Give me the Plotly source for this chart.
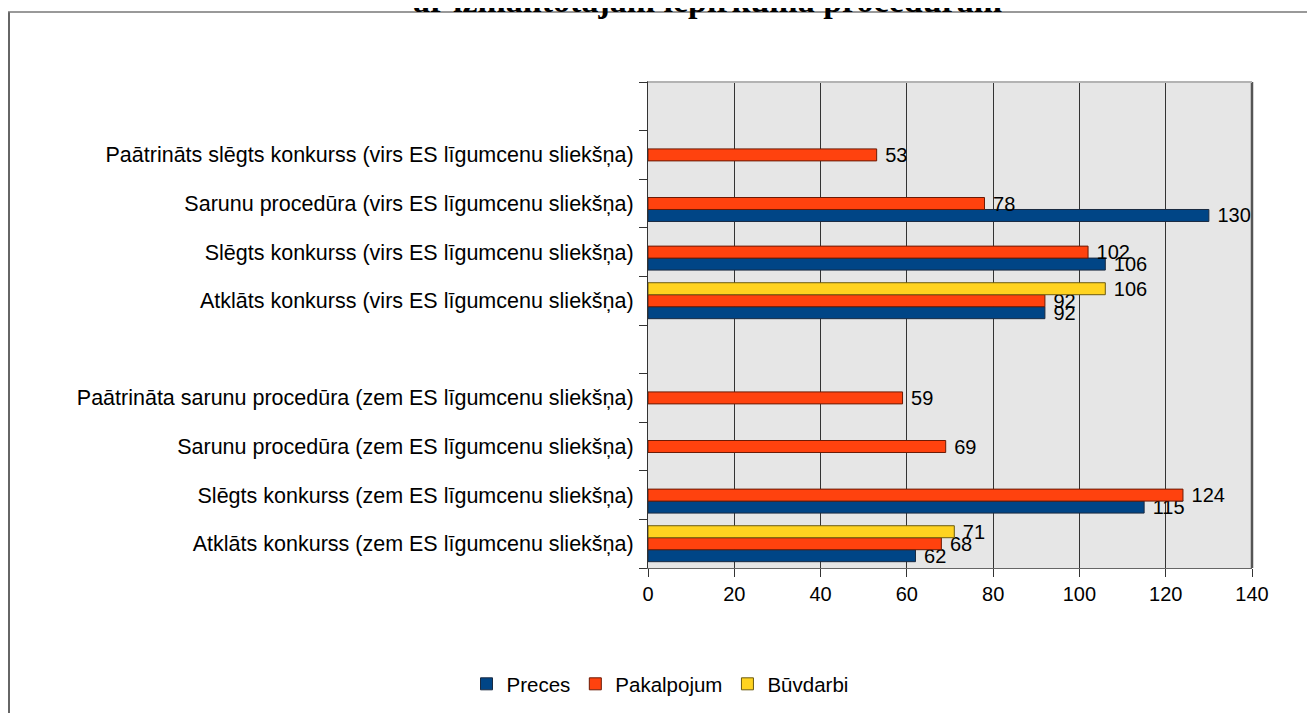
import plotly.graph_objects as go

categories = [
    "Atklāts konkurss (zem ES līgumcenu sliekšņa)",
    "Slēgts konkurss (zem ES līgumcenu sliekšņa)",
    "Sarunu procedūra (zem ES līgumcenu sliekšņa)",
    "Paātrināta sarunu procedūra (zem ES līgumcenu sliekšņa)",
    " ",
    "Atklāts konkurss (virs ES līgumcenu sliekšņa)",
    "Slēgts konkurss (virs ES līgumcenu sliekšņa)",
    "Sarunu procedūra (virs ES līgumcenu sliekšņa)",
    "Paātrināts slēgts konkurss (virs ES līgumcenu sliekšņa)",
    "  ",
]
preces = [62, 115, None, None, None, 92, 106, 130, None, None]
pakalpojum = [68, 124, 69, 59, None, 92, 102, 78, 53, None]
buvdarbi = [71, None, None, None, None, 106, None, None, None, None]
x_ticks = [0, 20, 40, 60, 80, 100, 120, 140]
title_text = "ar izmantotajām iepirkuma procedūrām"

series = [
    ("Preces", preces, "#004586", "#1a2a40"),
    ("Pakalpojum", pakalpojum, "#ff420e", "#6b1a05"),
    ("Būvdarbi", buvdarbi, "#ffd320", "#6b5a10"),
]

FONT = "Liberation Sans, Arial, sans-serif"

fig = go.Figure()
for name, vals, col, lcol in series:
    fig.add_trace(go.Bar(
        y=categories, x=vals, name=name, orientation="h",
        marker=dict(color=col, line=dict(color=lcol, width=1)),
        text=[("" if v is None else "\u00a0" + str(v)) for v in vals],
        textposition="outside", constraintext="none", cliponaxis=False,
        textfont=dict(family=FONT, size=20, color="black"),
    ))

# page offset: the html body has an 8px margin
OFF = 8
W, H = 1315, 713
L, R, T, B = 648 - OFF, 1315 - (1252 - OFF), 82 - OFF, 713 - (568 - OFF)
pw, ph = W - L - R, H - T - B

def px_x(sx):
    return (sx - OFF - L) / pw

def px_y(sy):
    return (H - B - (sy - OFF)) / ph

fig.update_layout(
    width=W, height=H,
    margin=dict(l=L, r=R, t=T, b=B, pad=0),
    paper_bgcolor="white", plot_bgcolor="#e6e6e6",
    barmode="group", bargap=0.26, bargroupgap=0,
    font=dict(family=FONT, size=21, color="black"),
    showlegend=True,
    legend=dict(orientation="h", xref="container", yref="container",
                x=(660 - OFF) / W, xanchor="center",
                y=1 - (684 - OFF) / H, yanchor="middle",
                font=dict(size=20.5), traceorder="normal", tracegroupgap=0),
    xaxis=dict(range=[0, 140], tickvals=x_ticks, ticktext=[str(v) for v in x_ticks],
               showgrid=True, gridcolor="#333333", gridwidth=1, zeroline=False,
               showline=True, linecolor="#666666", linewidth=1, mirror=True,
               ticks="outside", ticklen=8, tickcolor="#333333",
               tickfont=dict(size=20)),
    yaxis=dict(type="category", categoryorder="array", categoryarray=categories,
               range=[-0.5, len(categories) - 0.5],
               showgrid=False, zeroline=False,
               showline=True, linecolor="#333333", linewidth=1,
               ticks="outside", ticklen=8, tickcolor="#333333", tickson="boundaries",
               tickfont=dict(size=21.5), ticklabelstandoff=9),
    shapes=[
        dict(type="line", xref="paper", yref="paper", x0=px_x(9), x1=px_x(9),
             y0=px_y(12), y1=px_y(740), line=dict(color="#333333", width=1.5)),
        dict(type="line", xref="paper", yref="paper", x0=px_x(8), x1=px_x(1340),
             y0=px_y(12), y1=px_y(12), line=dict(color="#777777", width=1.5)),
        dict(type="line", xref="paper", yref="paper", x0=1, x1=1,
             y0=0, y1=1, line=dict(color="#555555", width=2.5)),
        dict(type="line", xref="paper", yref="paper", x0=0, x1=1,
             y0=1, y1=1, line=dict(color="#b3b3b3", width=2)),
    ],
    annotations=[
        dict(text="<b>" + title_text + "</b>", xref="paper", yref="paper",
             x=px_x(707), y=px_y(21), xanchor="center", yanchor="bottom",
             showarrow=False,
             font=dict(family="Liberation Serif, Times New Roman, serif", size=34, color="black")),
    ],
)

fig.write_html("out.html")
